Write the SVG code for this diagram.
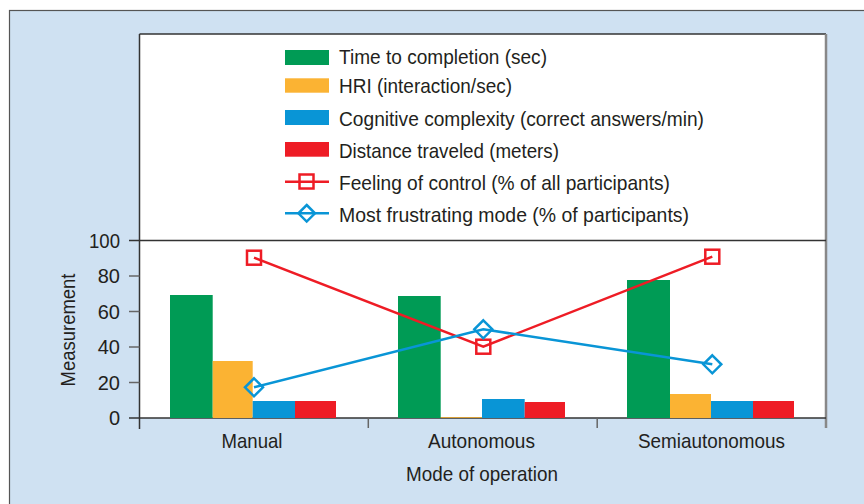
<svg xmlns="http://www.w3.org/2000/svg" width="864" height="504" viewBox="0 0 864 504">
<style>
text{font-family:"Liberation Sans",Arial,sans-serif;fill:#231f20}
.leg{font-size:21px}
.tick{font-size:20px;text-anchor:end}
.cat{font-size:21px;text-anchor:middle}
.ax{stroke:#333;stroke-width:1.5;fill:none}
.tk{stroke:#666;stroke-width:1.5}
.g{fill:#009b55}.o{fill:#fbb333}.b{fill:#0995d6}.r{fill:#ee1c25}
.rl{stroke:#ee1c25;stroke-width:2.5;fill:none}
.bl{stroke:#0995d6;stroke-width:2.5;fill:none}
</style>
<defs>
<rect id="sq" x="-7" y="-7" width="14" height="14" class="rl"/>
<path id="dm" d="M0,-9 L9,0 L0,9 L-9,0 Z" class="bl"/>
</defs>
<g id="panel">
<rect x="9.5" y="10.5" width="860" height="500" fill="#cfe1f2" stroke="#555" stroke-width="1.2"/>
<rect x="139.5" y="34" width="686.5" height="384" fill="#fff"/>
</g>
<g id="axes">
<line class="ax" x1="139.5" y1="34" x2="826" y2="34"/>
<line class="ax" x1="139.5" y1="34" x2="139.5" y2="429"/>
<line x1="826" y1="34" x2="826" y2="428" stroke="#888" stroke-width="2.5"/>
<line class="ax" x1="129" y1="240.5" x2="826" y2="240.5"/>
<line class="ax" x1="129" y1="418" x2="826" y2="418"/>
<line class="tk" x1="129" y1="276" x2="139.5" y2="276"/>
<line class="tk" x1="129" y1="311.5" x2="139.5" y2="311.5"/>
<line class="tk" x1="129" y1="347" x2="139.5" y2="347"/>
<line class="tk" x1="129" y1="382.5" x2="139.5" y2="382.5"/>
<line class="tk" x1="368.3" y1="418" x2="368.3" y2="428"/>
<line class="tk" x1="597.2" y1="418" x2="597.2" y2="428"/>
<text class="tick" x="120" y="247.5" textLength="31" lengthAdjust="spacingAndGlyphs">100</text>
<text class="tick" x="120" y="283">80</text>
<text class="tick" x="120" y="318.5">60</text>
<text class="tick" x="120" y="354">40</text>
<text class="tick" x="120" y="389.5">20</text>
<text class="tick" x="120" y="425">0</text>
<text class="cat" x="252" y="447.5" textLength="61" lengthAdjust="spacingAndGlyphs">Manual</text>
<text class="cat" x="481.5" y="447.5" textLength="107" lengthAdjust="spacingAndGlyphs">Autonomous</text>
<text class="cat" x="711.5" y="447.5" textLength="147" lengthAdjust="spacingAndGlyphs">Semiautonomous</text>
<text class="cat" x="482" y="480.5" textLength="152" lengthAdjust="spacingAndGlyphs">Mode of operation</text>
<text class="cat" transform="translate(74.5,330) rotate(-90)" x="0" y="0" textLength="113" lengthAdjust="spacingAndGlyphs">Measurement</text>
</g>
<g id="bars">
<rect class="g" x="170" y="295" width="42.7" height="123"/>
<rect class="o" x="212.7" y="361" width="40" height="57"/>
<rect class="b" x="252.7" y="401" width="42.3" height="17"/>
<rect class="r" x="295" y="401" width="41" height="17"/>
<rect class="g" x="398" y="296" width="42.7" height="122"/>
<rect fill="#d8a03a" x="440.7" y="417" width="41.3" height="1"/>
<rect class="b" x="482" y="399" width="42.7" height="19"/>
<rect class="r" x="524.7" y="402" width="40.3" height="16"/>
<rect class="g" x="627" y="280" width="43" height="138"/>
<rect class="o" x="670" y="394" width="41" height="24"/>
<rect class="b" x="711" y="401" width="42" height="17"/>
<rect class="r" x="753" y="401" width="41" height="17"/>
</g>
<g id="connectors">
<polyline class="rl" points="254,257.7 483.3,346.7 712.3,256.7"/>
<polyline class="bl" points="254,387.3 483.3,329.3 712.3,364.3"/>
</g>
<g id="markers">
<use href="#sq" x="254" y="257.7"/>
<use href="#sq" x="483.3" y="346.7"/>
<use href="#sq" x="712.3" y="256.7"/>
<use href="#dm" x="254" y="387.3"/>
<use href="#dm" x="483.3" y="329.3"/>
<use href="#dm" x="712.3" y="364.3"/>
</g>
<g id="legend">
<rect class="g" x="285" y="50" width="44" height="15"/>
<text class="leg" x="339" y="63.5" textLength="208" lengthAdjust="spacingAndGlyphs">Time to completion (sec)</text>
<rect class="o" x="285" y="78.3" width="44" height="14.4"/>
<text class="leg" x="339" y="93.3" textLength="173" lengthAdjust="spacingAndGlyphs">HRI (interaction/sec)</text>
<rect class="b" x="285" y="110" width="44" height="15"/>
<text class="leg" x="339" y="125.7" textLength="365" lengthAdjust="spacingAndGlyphs">Cognitive complexity (correct answers/min)</text>
<rect class="r" x="285" y="142" width="44" height="14.7"/>
<text class="leg" x="339" y="158.3" textLength="220" lengthAdjust="spacingAndGlyphs">Distance traveled (meters)</text>
<line class="rl" x1="285" y1="181.7" x2="329" y2="181.7"/>
<rect x="299.5" y="174.5" width="14" height="14" fill="#fff" class="rl"/>
<text class="leg" x="339" y="190" textLength="331" lengthAdjust="spacingAndGlyphs">Feeling of control (% of all participants)</text>
<line class="bl" x1="285" y1="213.3" x2="329" y2="213.3"/>
<path d="M306.7,205 L315,213.3 L306.7,221.6 L298.4,213.3 Z" fill="#fff" class="bl"/>
<text class="leg" x="339" y="221.7" textLength="350" lengthAdjust="spacingAndGlyphs">Most frustrating mode (% of participants)</text>
</g>
</svg>
